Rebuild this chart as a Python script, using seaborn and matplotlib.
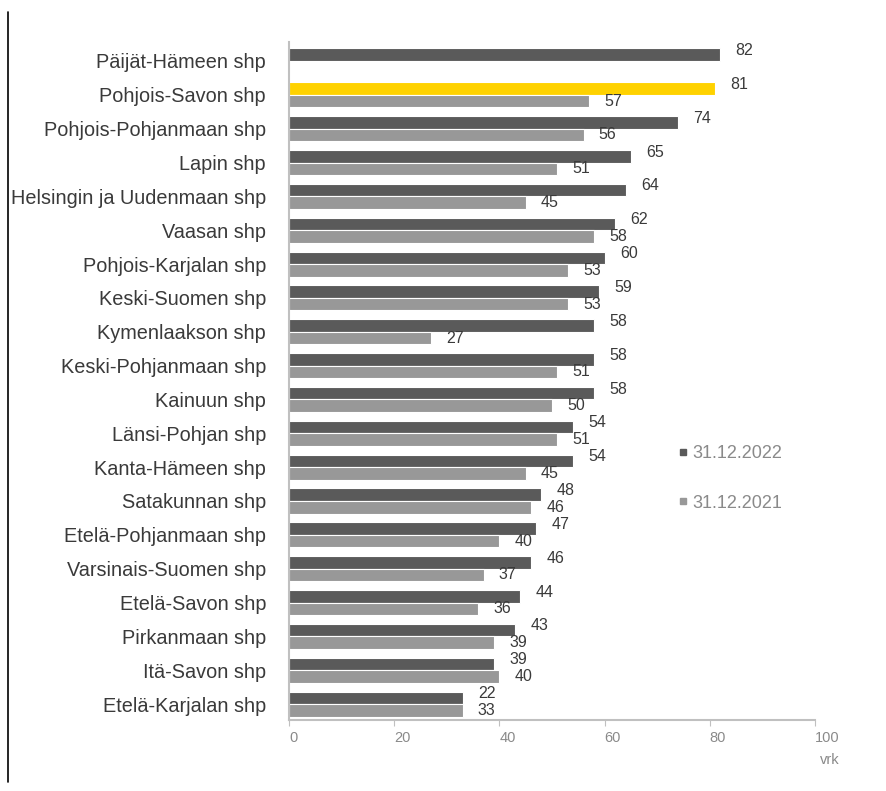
import pandas as pd
import matplotlib.pyplot as plt
import seaborn as sns
from matplotlib.lines import Line2D

# data
shp = ['Päijät-Hämeen shp', 'Pohjois-Savon shp', 'Pohjois-Pohjanmaan shp', 'Lapin shp',
       'Helsingin ja Uudenmaan shp', 'Vaasan shp', 'Pohjois-Karjalan shp', 'Keski-Suomen shp',
       'Kymenlaakson shp', 'Keski-Pohjanmaan shp', 'Kainuun shp', 'Länsi-Pohjan shp',
       'Kanta-Hämeen shp', 'Satakunnan shp', 'Etelä-Pohjanmaan shp', 'Varsinais-Suomen shp',
       'Etelä-Savon shp', 'Pirkanmaan shp', 'Itä-Savon shp', 'Etelä-Karjalan shp']
vrk_2022 = [82, 81, 74, 65, 64, 62, 60, 59, 58, 58, 58, 54, 54, 48, 47, 46, 44, 43, 39, 33]
vrk_2021 = [None, 57, 56, 51, 45, 58, 53, 53, 27, 51, 50, 51, 45, 46, 40, 37, 36, 39, 40, 33]
# printed labels (the last 2022 label in the original says 22)
lbl_2022 = ['82', '81', '74', '65', '64', '62', '60', '59', '58', '58', '58', '54', '54',
            '48', '47', '46', '44', '43', '39', '22']
series = ['31.12.2022', '31.12.2021']

rows = []
for i, s in enumerate(shp):
    rows.append({'shp': s, 'pvm': series[0], 'vrk': vrk_2022[i]})
    if vrk_2021[i] is not None:
        rows.append({'shp': s, 'pvm': series[1], 'vrk': vrk_2021[i]})
df = pd.DataFrame(rows)

dark = '#5a5a5a'
light = '#989898'
yellow = '#ffd200'
txt = '#3a3a3a'
grey_txt = '#8a8a8a'

sns.set_style('white')
plt.rcParams['font.family'] = ['Liberation Sans', 'DejaVu Sans']

fig = plt.figure(figsize=(8.86, 7.91), dpi=100)
ax = fig.add_axes([289 / 886, 1 - 720 / 791, (815 - 289) / 886, (720 - 42) / 791])

sns.barplot(data=df, y='shp', x='vrk', hue='pvm', order=shp, hue_order=series,
            palette=[dark, light], orient='h', width=0.74, edgecolor='white',
            linewidth=0.8, legend=False, ax=ax)

# yellow bar + value labels
for k, cont in enumerate(ax.containers):
    for p in cont:
        yc = p.get_y() + p.get_height() / 2
        i = int(round(yc))
        if k == 0:
            label = lbl_2022[i]
            dy = 3
            if i == 1:
                p.set_facecolor(yellow)
        else:
            label = str(vrk_2021[i])
            dy = 0
        ax.annotate(label, (p.get_width(), yc), xytext=(11, dy), textcoords='offset points',
                    ha='left', va='center', fontsize=11.5, color=txt)

ax.set_xlim(0, 100)
ax.set_ylim(19.47, -0.56)
ax.set_xticks([0, 20, 40, 60, 80, 100])
ax.set_xlabel('')
ax.set_ylabel('')
sns.despine(ax=ax)
for sp in ['left', 'bottom']:
    ax.spines[sp].set_color('#c0c0c0')
    ax.spines[sp].set_linewidth(1.5)
ax.tick_params(axis='x', bottom=True, length=4, color='#c0c0c0', labelsize=10.5,
               labelcolor=grey_txt, pad=4)
for t in ax.get_xticklabels():
    t.set_horizontalalignment('left')
ax.tick_params(axis='y', left=False, labelsize=14.3, labelcolor=txt, pad=13)
ax.text(1.01, -0.048, 'vrk', transform=ax.transAxes, fontsize=10.5, color=grey_txt,
        ha='left', va='top')

handles = [Line2D([], [], marker='s', linestyle='', markersize=4, color=c) for c in [dark, light]]
ax.legend(handles, series, loc='upper left', bbox_to_anchor=(662 / 886, 1 - 429 / 791),
          bbox_transform=fig.transFigure, frameon=False, fontsize=13, labelcolor=grey_txt,
          handlelength=0.5, handletextpad=0.3, labelspacing=1.8)

# left border line
fig.add_artist(Line2D([8 / 886, 8 / 886], [1 - 12 / 791, 1 - 782 / 791], color='black',
                      linewidth=1.2))

fig.savefig('out.png', dpi=100)
